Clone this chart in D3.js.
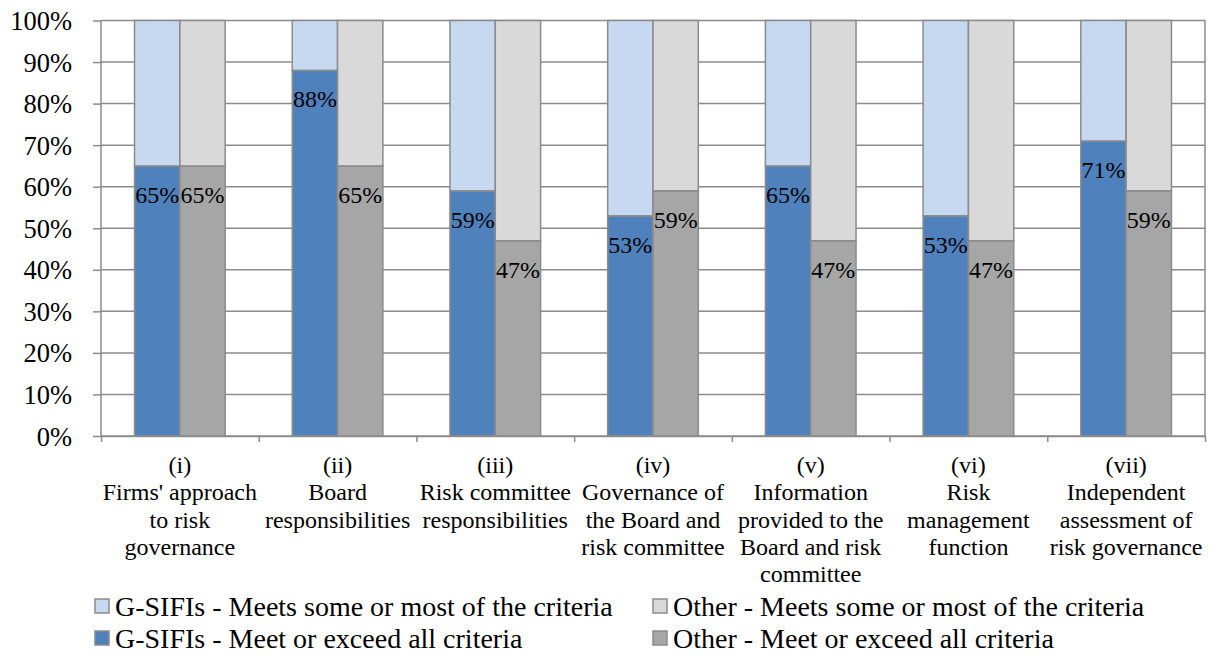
<!DOCTYPE html>
<html>
<head>
<meta charset="utf-8">
<script src="https://cdn.jsdelivr.net/npm/d3@7"></script>
<style>
  html, body { margin: 0; padding: 0; background: #fff; }
</style>
</head>
<body>
<div id="chart"></div>
<script>
// categories, each label split in lines as in the source
const categories = ['(i)', '(ii)', '(iii)', '(iv)', '(v)', '(vi)', '(vii)'];
const categoryLines = [
  ['(i)', "Firms' approach", 'to risk', 'governance'],
  ['(ii)', 'Board', 'responsibilities'],
  ['(iii)', 'Risk committee', 'responsibilities'],
  ['(iv)', 'Governance of', 'the Board and', 'risk committee'],
  ['(v)', 'Information', 'provided to the', 'Board and risk', 'committee'],
  ['(vi)', 'Risk', 'management', 'function'],
  ['(vii)', 'Independent', 'assessment of', 'risk governance']
];

// percentages
const gsifiMeetAll = [65, 88, 59, 53, 65, 53, 71];
const gsifiMeetsSome = [35, 12, 41, 47, 35, 47, 29];
const otherMeetAll = [65, 65, 47, 59, 47, 47, 59];
const otherMeetsSome = [35, 35, 53, 41, 53, 53, 41];

const yTicks = [0, 10, 20, 30, 40, 50, 60, 70, 80, 90, 100];

const legendItems = [
  { name: 'G-SIFIs - Meets some or most of the criteria', color: '#c6d9f1' },
  { name: 'Other - Meets some or most of the criteria', color: '#d9d9d9' },
  { name: 'G-SIFIs - Meet or exceed all criteria', color: '#4f81bd' },
  { name: 'Other - Meet or exceed all criteria', color: '#a6a6a6' }
];

const groups = [
  { key: 'gsifi', low: gsifiMeetAll, high: gsifiMeetsSome, dark: '#4f81bd', light: '#c6d9f1' },
  { key: 'other', low: otherMeetAll, high: otherMeetsSome, dark: '#a6a6a6', light: '#d9d9d9' }
];

const W = 1211, H = 659;
const plotL = 101, plotR = 1205, plotT = 20.5, plotB = 436;
const lineCol = '#8b8b8b';
const FONT = "'Liberation Serif', Tinos, 'Times New Roman', 'DejaVu Serif', serif";

const svg = d3.select('#chart').append('svg')
  .attr('width', W)
  .attr('height', H)
  .attr('font-family', FONT);

const y = d3.scaleLinear().domain([0, 100]).range([plotB, plotT]);
const x0 = d3.scaleBand().domain(categories).range([plotL, plotR]);
const x1 = d3.scaleBand().domain(groups.map(g => g.key))
  .range([0, x0.bandwidth()]).paddingInner(0).paddingOuter(0.74);

// gridlines
svg.append('g')
  .selectAll('line')
  .data(yTicks)
  .join('line')
  .attr('x1', plotL).attr('x2', plotR)
  .attr('y1', d => y(d)).attr('y2', d => y(d))
  .attr('stroke', lineCol)
  .attr('stroke-width', 1.5);

// stacked bars
const barG = svg.append('g');
groups.forEach(g => {
  categories.forEach((c, i) => {
    const bx = x0(c) + x1(g.key);
    const lo = g.low[i], hi = g.high[i];
    barG.append('rect')
      .attr('x', bx).attr('width', x1.bandwidth())
      .attr('y', y(lo)).attr('height', y(0) - y(lo))
      .attr('fill', g.dark)
      .attr('stroke', lineCol).attr('stroke-width', 1.5);
    barG.append('rect')
      .attr('x', bx).attr('width', x1.bandwidth())
      .attr('y', y(lo + hi)).attr('height', y(lo) - y(lo + hi))
      .attr('fill', g.light)
      .attr('stroke', lineCol).attr('stroke-width', 1.5);
  });
});

// data labels, near the top of the lower segment
const labelG = svg.append('g');
groups.forEach(g => {
  categories.forEach((c, i) => {
    labelG.append('text')
      .attr('x', x0(c) + x1(g.key) + x1.bandwidth() / 2)
      .attr('y', y(g.low[i]) + 37)
      .attr('text-anchor', 'middle')
      .attr('font-family', FONT)
      .attr('font-size', '24px')
      .text(g.low[i] + '%');
  });
});

// y axis
const yAxis = svg.append('g')
  .attr('transform', `translate(${plotL},0)`)
  .call(d3.axisLeft(y).tickValues(yTicks).tickFormat(d => d + '%').tickSize(8).tickPadding(21));
yAxis.attr('font-family', FONT).attr('font-size', '26.5px');
yAxis.selectAll('line, path').attr('stroke', lineCol).attr('stroke-width', 1.5);
yAxis.select('.domain').attr('d', `M0,${plotT}V${plotB}`);
yAxis.selectAll('text').attr('fill', '#000').attr('dy', '0.34em');

// right border
svg.append('line')
  .attr('x1', plotR).attr('x2', plotR)
  .attr('y1', plotT).attr('y2', plotB)
  .attr('stroke', lineCol).attr('stroke-width', 1.5);

// x axis with ticks at category boundaries
const xb = d3.scaleLinear().domain([0, categories.length]).range([plotL, plotR]);
const xAxis = svg.append('g')
  .attr('transform', `translate(0,${plotB})`)
  .call(d3.axisBottom(xb).ticks(categories.length).tickFormat('').tickSize(6).tickSizeOuter(0));
xAxis.selectAll('line, path').attr('stroke', lineCol).attr('stroke-width', 1.5);

// category labels
categories.forEach((c, i) => {
  const t = svg.append('text')
    .attr('text-anchor', 'middle')
    .attr('font-family', FONT)
    .attr('font-size', '24px');
  categoryLines[i].forEach((ln, j) => {
    t.append('tspan')
      .attr('x', x0(c) + x0.bandwidth() / 2)
      .attr('y', 473 + j * 27.3)
      .text(ln);
  });
});

// legend, two columns
const legend = svg.append('g');
const colX = [95, 653];
legendItems.forEach((d, i) => {
  const cx = colX[i % 2];
  const by = 616 + Math.floor(i / 2) * 32;
  legend.append('rect')
    .attr('x', cx).attr('y', by - 17)
    .attr('width', 14).attr('height', 14)
    .attr('fill', d.color)
    .attr('stroke', lineCol).attr('stroke-width', 1.5);
  legend.append('text')
    .attr('x', cx + 20).attr('y', by)
    .attr('font-family', FONT)
    .attr('font-size', '28px')
    .text(d.name);
});
</script>
</body>
</html>
